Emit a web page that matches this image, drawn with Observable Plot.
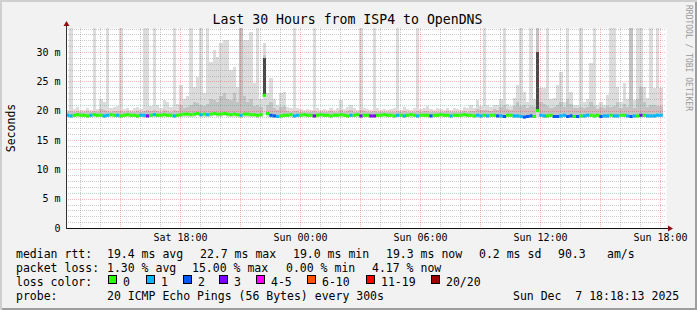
<!DOCTYPE html>
<html><head><meta charset="utf-8">
<script src="https://cdn.jsdelivr.net/npm/d3@7"></script>
<script src="https://cdn.jsdelivr.net/npm/@observablehq/plot@0.6"></script>
<style>
html,body{margin:0;padding:0;background:#f2f2f2;}
#wrap{position:relative;width:697px;height:310px;background:#f2f2f2;box-shadow:inset 2px 2px 0 #cfcfcf, inset -2px -2px 0 #9e9e9e;overflow:hidden;font-family:"DejaVu Sans Mono",monospace;}
#wrap svg{position:absolute;left:0;top:0;}
.lg{position:absolute;font-size:11.5px;line-height:14px;white-space:pre;color:#000;}
.box{position:absolute;width:9px;height:9px;box-sizing:border-box;border:1px solid #000;}
</style></head><body><div id="wrap"></div><script>
const title = "Last 30 Hours from ISP4 to OpenDNS";
const yLabel = "Seconds";
const watermark = "RRDTOOL / TOBI OETIKER";
const startTime = "2025-12-06T12:18";
const endTime = "2025-12-07T18:18";
const slotMinutes = 10;

// median RTT per 10-minute slot (ms)
const median = [
19.3,19.2,19.3,19.4,19.3,19.3,19.2,19.3,19.4,19.3,19.3,19.2,19.3,19.4,19.3,19.3,19.2,19.3,
19.4,19.3,19.3,19.2,19.3,19.3,19.2,19.3,19.4,19.3,19.3,19.4,19.3,19.3,19.2,19.3,19.4,19.5,
19.5,19.4,19.5,19.6,19.4,19.5,19.4,19.5,19.6,19.5,19.5,19.6,19.5,19.4,19.5,19.4,19.3,19.5,
19.5,19.4,19.4,19.3,19.4,22.7,19.6,19.3,19.2,19.1,19.2,19.3,19.3,19.4,19.2,19.3,19.3,19.4,
19.3,19.3,19.2,19.3,19.4,19.3,19.3,19.2,19.3,19.3,19.4,19.3,19.2,19.3,19.3,19.4,19.2,19.3,
19.3,19.2,19.2,19.3,19.3,19.4,19.3,19.3,19.2,19.3,19.3,19.2,19.3,19.4,19.3,19.2,19.3,19.3,
19.3,19.2,19.3,19.3,19.4,19.3,19.3,19.2,19.3,19.3,19.3,19.4,19.3,19.3,19.2,19.3,19.2,19.3,
19.2,19.3,19.3,19.2,19.2,19.1,19.3,19.3,19.2,19.2,19.1,19.0,19.1,19.2,19.1,20.1,19.3,19.2,
19.2,19.3,19.1,19.1,19.2,19.3,19.1,19.2,19.1,19.1,19.2,19.2,19.3,19.3,19.2,19.3,19.1,19.2,
19.2,19.3,19.2,19.2,19.3,19.3,19.2,19.1,19.2,19.2,19.3,19.3,19.2,19.2,19.2,19.3,19.3
];
// fastest ping per slot (ms)
const pingMin = [
18.9,18.8,18.9,19.0,18.9,18.9,18.8,18.9,18.9,18.9,18.9,18.8,18.9,19.0,18.9,18.9,18.8,18.9,
19.0,18.9,18.9,18.8,18.9,18.8,18.8,18.9,19.0,18.9,18.9,19.0,18.9,18.9,18.8,18.9,18.9,19.0,
19.0,18.9,19.0,19.1,18.9,19.0,18.9,19.0,19.1,19.0,19.0,19.1,19.0,18.9,19.0,18.9,18.8,19.0,
19.0,18.9,18.9,18.8,18.9,19.2,19.0,18.8,18.7,18.7,18.8,18.9,18.9,19.0,18.8,18.9,18.9,19.0,
18.9,18.9,18.8,18.9,19.0,18.9,18.9,18.8,18.9,18.9,19.0,18.9,18.8,18.9,18.9,19.0,18.8,18.9,
18.9,18.8,18.8,18.9,18.9,19.0,18.9,18.9,18.8,18.9,18.9,18.8,18.9,19.0,18.9,18.8,18.9,18.9,
18.9,18.8,18.9,18.9,19.0,18.9,18.9,18.8,18.9,18.9,18.9,19.0,18.9,18.9,18.8,18.9,18.8,18.9,
18.8,18.9,18.9,18.8,18.8,18.7,18.9,18.9,18.8,18.8,18.7,18.6,18.7,18.8,18.7,18.9,18.9,18.8,
18.8,18.9,18.7,18.7,18.8,18.9,18.7,18.8,18.7,18.7,18.8,18.8,18.9,18.9,18.8,18.9,18.7,18.8,
18.8,18.9,18.8,18.8,18.9,18.9,18.8,18.7,18.8,18.8,18.9,18.9,18.8,18.8,18.8,18.9,18.9
];
// slowest ping per slot (ms); 35 = off the top of the graph
const pingMax = [
20.2,35,20.3,20.6,20.1,20.2,20.4,20.1,35,20.3,22.0,21.5,35,20.4,20.6,20.8,35,20.3,
20.5,20.2,20.4,20.6,20.3,35,35,20.8,35,21.0,20.5,21.8,21.5,20.6,35,21.2,24.4,22.0,
22.5,35,24.0,25.7,35,23.0,35,28.3,30.3,29.2,31.5,32.0,32.0,27.0,27.5,24.0,35,32.0,
32.0,33.5,24.7,35,22.0,31.5,23.0,25.5,22.0,21.0,23.0,23.2,20.6,20.4,35,20.5,20.3,20.2,
20.3,20.2,35,20.4,20.1,20.3,20.2,20.5,20.2,20.4,21.8,20.3,20.6,21.0,20.4,20.2,35,20.5,
20.3,20.2,35,20.4,20.2,20.3,20.1,20.3,20.4,35,20.2,20.6,20.3,20.2,20.4,35,20.3,20.5,
20.8,20.3,20.2,20.4,20.3,20.1,20.5,20.2,20.4,20.3,20.2,20.6,20.4,20.9,20.5,21.8,20.8,35,
21.0,20.6,21.0,21.0,22.0,35,21.2,20.8,22.2,24.4,35,23.2,21.5,35,22.0,35,23.9,23.9,
35,22.0,22.2,24.4,26.6,21.5,35,23.2,21.0,21.0,35,21.5,22.0,28.1,35,21.0,21.5,21.0,
22.7,35,35,24.1,21.5,24.7,22.0,35,21.8,35,35,24.0,22.2,35,23.9,35,23.9
];
// upper edge of the denser smoke per slot (ms)
const pingUpper = [
19.8,20.0,19.8,19.9,19.8,19.8,19.9,19.8,19.9,19.8,20.3,20.1,20.0,19.8,19.9,20.0,19.9,19.8,
19.9,19.8,19.8,19.9,19.8,20.0,20.1,19.9,20.1,19.9,19.8,20.2,20.0,19.8,20.2,19.9,21.0,20.4,
20.6,21.0,21.5,21.3,21.0,20.8,21.2,22.0,21.8,21.5,22.5,23.0,22.0,21.8,23.0,21.5,35,22.5,
21.5,22.0,20.8,21.0,20.6,29.5,21.0,21.5,20.5,20.2,20.6,20.8,19.9,19.8,20.0,19.9,19.8,19.8,
19.8,19.8,20.0,19.8,19.7,19.8,19.8,19.9,19.8,19.8,20.2,19.8,19.9,20.2,19.8,19.8,20.1,19.9,
19.8,19.8,20.0,19.8,19.8,19.8,19.7,19.8,19.8,20.0,19.8,19.9,19.8,19.8,19.8,20.0,19.8,19.9,
20.0,19.8,19.8,19.8,19.8,19.7,19.9,19.8,19.8,19.8,19.8,19.9,19.8,20.0,19.9,20.3,20.1,20.2,
20.2,20.0,20.3,20.2,20.6,21.0,20.3,20.1,20.8,21.5,20.8,21.0,20.5,20.8,20.6,35,21.5,21.2,
20.8,20.4,20.6,21.0,21.5,20.6,22.0,21.2,20.5,20.4,20.6,20.5,20.6,21.5,20.8,20.3,20.6,20.4,
20.8,20.6,20.8,21.5,20.4,21.2,20.6,35,20.5,22.0,24.0,21.5,20.6,21.0,21.0,20.8,20.8
];
// lost pings (of 20) per slot
const loss = [
1,1,0,0,0,0,0,1,0,0,0,1,1,0,0,1,0,0,
0,0,0,0,1,1,3,0,1,0,0,0,0,0,1,0,0,0,
0,0,0,0,1,0,1,0,0,0,0,0,0,0,0,0,1,0,
0,0,0,0,0,0,0,2,2,1,0,0,0,0,1,1,0,0,
0,0,3,0,0,0,0,0,0,0,0,0,0,1,0,0,3,0,
0,3,3,0,0,0,0,0,0,1,0,1,0,0,0,1,0,0,
0,2,0,0,0,0,0,1,0,0,0,0,0,0,0,1,1,0,
1,0,0,2,1,2,0,0,1,1,1,2,2,2,0,0,1,1,
0,0,2,2,1,1,2,2,0,2,0,1,1,0,0,0,2,1,
1,0,1,1,0,0,1,2,1,0,3,0,1,1,1,1,1
];
// slots with a dark smoke core, and the core top (ms)
const coreSlot = [59, 141];
const coreTop = [29.0, 30.0];

const lossLabels = ["0","1","2","3","4-5","6-10","11-19","20/20"];
const lossColors = ["#26ff00","#00b8ff","#0059ff","#7e00ff","#ff00ff","#ff5500","#ff0000","#a10000"];
const lossMinCount = [0,1,2,3,4,6,11,20];

const yMajorTicks = [0,5,10,15,20,25,30];
const yMinorTicks = [1,2,3,4,6,7,8,9,11,12,13,14,16,17,18,19,21,22,23,24,26,27,28,29,31,32,33,34];
const xLabelTimes = ["2025-12-06T18:00","2025-12-07T00:00","2025-12-07T06:00","2025-12-07T12:00","2025-12-07T18:00"];

const legendRows = [
  ["median rtt:", "19.4 ms avg", "22.7 ms max", "19.0 ms min", "19.3 ms now", "0.2 ms sd", "90.3", "am/s"],
  ["packet loss:", "1.30 % avg", "15.00 % max", "0.00 % min", "4.17 % now"],
  ["loss color:"],
  ["probe:", "20 ICMP Echo Pings (56 Bytes) every 300s", "Sun Dec  7 18:18:13 2025"]
];

// ---- layout (kept apart from data) ----
const legendX = [[16,107,200,293,386,479,558,607],[16,107,192,286,372],[16],[16,107,513]];
const legendTop = [247, 261, 275, 289];
const boxX = [108,146,183,219,256,307,366,431];

const start = new Date(startTime), end = new Date(endTime);
const step = slotMinutes * 60000;
const slots = median.map((m, i) => ({
  t0: new Date(+start + i * step),
  t1: new Date(+start + (i + 1) * step),
  median: m, min: pingMin[i], max: pingMax[i], upper: pingUpper[i], loss: loss[i]
}));
const cores = coreSlot.map((s, k) => ({...slots[s], top: coreTop[k]}));
function colorFor(n) {
  let idx = 0;
  lossMinCount.forEach((c, j) => { if (n >= c) idx = j; });
  return lossColors[idx];
}
const hourGrid = d3.timeHour.every(1).range(start, end).filter(d => d.getHours() % 3 !== 0);
const threeHourGrid = d3.timeHour.every(3).range(start, end);

const gridMinor = {stroke: "#808080", strokeOpacity: 0.4, strokeDasharray: "1,1", shapeRendering: "crispEdges"};
const gridMajor = {stroke: "#ff0000", strokeOpacity: 0.28, strokeDasharray: "1,1", shapeRendering: "crispEdges"};

const chart = Plot.plot({
  width: 697, height: 245,
  marginLeft: 66, marginRight: 31, marginTop: 28, marginBottom: 17,
  style: {background: "transparent", fontFamily: "DejaVu Sans Mono", fontSize: "10px", color: "#000", overflow: "visible"},
  x: {type: "time", domain: [start, end]},
  y: {domain: [0, 34.1]},
  color: {type: "identity"},
  marks: [
    Plot.frame({fill: "white", stroke: "none"}),
    Plot.rect(slots, {x1: "t0", x2: "t1", y1: "min", y2: "max", fill: "#dcdcdc", clip: true, shapeRendering: "crispEdges"}),
    Plot.rect(slots, {x1: "t0", x2: "t1", y1: "median", y2: "upper", fill: "#c3c3c3", clip: true, shapeRendering: "crispEdges"}),
    Plot.rect(cores, {x1: "t0", x2: "t1", y1: "median", y2: "top", fill: "#484848", clip: true, shapeRendering: "crispEdges"}),
    Plot.ruleY(yMinorTicks, gridMinor),
    Plot.ruleX(hourGrid, gridMinor),
    Plot.ruleY(yMajorTicks.filter(d => d > 0), gridMajor),
    Plot.ruleX(threeHourGrid, gridMajor),
    Plot.ruleY(slots, {y: "median", x1: "t0", x2: "t1", stroke: d => colorFor(d.loss), strokeWidth: 3}),
    Plot.axisY(yMajorTicks, {tickFormat: d => d === 0 ? "0" : d + " m", tickSize: 0, tickPadding: 6, label: null}),
    Plot.axisX(xLabelTimes.map(s => new Date(s)), {tickFormat: d3.timeFormat("%a %H:%M"), tickSize: 0, tickPadding: 5, label: null})
  ]
});

const wrap = document.getElementById("wrap");
wrap.appendChild(chart);

// decorations derived from the plot's scales
const svg = d3.select(chart);
const [xL, xR] = chart.scale("x").range;
const [yB, yT] = chart.scale("y").range;
const deco = svg.append("g");
deco.append("line").attr("x1", xL).attr("x2", xR + 3).attr("y1", yB + 0.5).attr("y2", yB + 0.5).attr("stroke", "#111");
deco.append("line").attr("x1", xL + 0.5).attr("x2", xL + 0.5).attr("y1", yB + 1).attr("y2", yT - 2).attr("stroke", "#333");
deco.append("polygon").attr("points", `${xR+2},${yB-2.5} ${xR+7},${yB+0.5} ${xR+2},${yB+3.5}`).attr("fill", "#8f1010");
deco.append("polygon").attr("points", `${xL-2.5},${yT-2} ${xL+0.5},${yT-7} ${xL+3.5},${yT-2}`).attr("fill", "#8f1010");
deco.append("text").attr("x", 347.5).attr("y", 23.5).attr("text-anchor", "middle")
  .style("font-size", "13.2px").attr("fill", "#000").text(title);
deco.append("text").attr("transform", `translate(15,${(yB + yT) / 2}) rotate(-90)`).attr("text-anchor", "middle")
  .style("font-size", "11.5px").attr("fill", "#000").text(yLabel);
deco.append("text").attr("transform", "translate(685.5,5) rotate(90)").attr("text-anchor", "start")
  .style("font-size", "8px").attr("fill", "#999").text(watermark);

// legend
legendRows.forEach((row, r) => {
  row.forEach((txt, k) => {
    const s = document.createElement("div");
    s.className = "lg";
    s.style.left = legendX[r][k] + "px";
    s.style.top = legendTop[r] + "px";
    s.textContent = txt;
    wrap.appendChild(s);
  });
});
lossLabels.forEach((lab, k) => {
  const b = document.createElement("div");
  b.className = "box";
  b.style.left = boxX[k] + "px";
  b.style.top = (legendTop[2]) + "px";
  b.style.background = lossColors[k];
  wrap.appendChild(b);
  const t = document.createElement("div");
  t.className = "lg";
  t.style.left = (boxX[k] + 15) + "px";
  t.style.top = legendTop[2] + "px";
  t.textContent = lab;
  wrap.appendChild(t);
});
</script></body></html>
